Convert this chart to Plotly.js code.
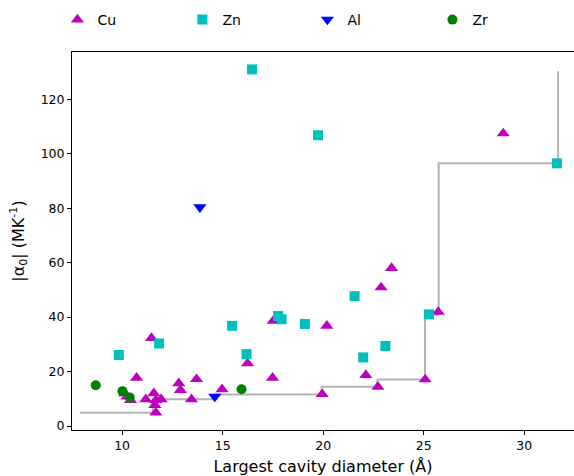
<!DOCTYPE html>
<html>
<head>
<meta charset="utf-8">
<script src="https://cdn.plot.ly/plotly-3.0.1.min.js"></script>
<style>html,body{margin:0;padding:0;overflow:hidden;background:#fff;}</style>
</head>
<body>
<div id="chart" style="width:574px;height:476px;"></div>
<script>
const cuX = [10.72, 10.13, 10.25, 10.42, 11.46, 11.18, 11.58, 11.68, 11.94, 11.68, 11.63, 12.82, 12.9, 13.7, 13.45, 14.97, 16.24, 17.51, 17.48, 20.18, 19.95, 22.88, 22.12, 22.72, 25.07, 25.72, 23.4, 28.95];
const cuY = [17.7, 12.0, 10.8, 9.5, 32.3, 9.8, 12.0, 9.5, 9.8, 4.9, 7.7, 15.7, 13.2, 17.2, 9.8, 13.5, 23.0, 38.6, 17.7, 36.8, 11.7, 50.9, 18.7, 14.4, 17.1, 41.9, 58.0, 107.5];
const znX = [9.84, 11.84, 15.47, 16.19, 16.46, 17.76, 17.93, 19.09, 19.74, 21.56, 21.99, 23.09, 25.26, 31.62];
const znY = [26.1, 30.3, 36.8, 26.4, 131.0, 40.4, 39.2, 37.5, 106.8, 47.7, 25.2, 29.4, 41.0, 96.5];
const alX = [13.87, 14.61];
const alY = [80.4, 10.8];
const zrX = [8.69, 10.02, 10.38, 15.94];
const zrY = [15.0, 12.8, 10.5, 13.5];
const stepX = [7.9, 11.54, 14.6, 19.92, 22.7, 25.06, 25.74, 31.68];
const stepY = [4.9, 9.8, 11.6, 14.4, 17.1, 41.0, 96.5, 130.3];
const xTicks = [10, 15, 20, 25, 30];
const yTicks = [0, 20, 40, 60, 80, 100, 120];

const font = 'DejaVu Sans, sans-serif';
const traces = [
  {x: stepX, y: stepY, mode: 'lines', line: {shape: 'hv', color: '#b3b3b3', width: 2}, showlegend: false, hoverinfo: 'skip'},
  {x: cuX, y: cuY, mode: 'markers', name: 'Cu', marker: {symbol: 'triangle-up', size: 11.5, color: '#bf00bf'}},
  {x: znX, y: znY, mode: 'markers', name: 'Zn', marker: {symbol: 'square', size: 10, color: '#00bfbf'}},
  {x: alX, y: alY, mode: 'markers', name: 'Al', marker: {symbol: 'triangle-down', size: 11.5, color: '#0000ff'}},
  {x: zrX, y: zrY, mode: 'markers', name: 'Zr', marker: {symbol: 'circle', size: 10, color: '#008000'}}
];
const layout = {
  width: 574, height: 476,
  margin: {l: 72, r: 0, t: 52, b: 46, pad: 0},
  paper_bgcolor: '#fff', plot_bgcolor: '#fff',
  font: {family: font, size: 12.5, color: '#000'},
  showlegend: true,
  legend: {orientation: 'h', xref: 'container', yref: 'container', x: 0.1, xanchor: 'left', y: 1 - 20/476, yanchor: 'middle',
           entrywidth: 80, font: {family: font, size: 14, color: '#000'}, bgcolor: 'rgba(0,0,0,0)'},
  xaxis: {range: [7.51, 32.47], tickvals: xTicks, ticktext: xTicks.map(String), ticks: 'outside', ticklen: 4, tickcolor: '#000',
          showline: true, linecolor: '#000', linewidth: 1, mirror: true, showgrid: false, zeroline: false,
          title: {text: 'Largest cavity diameter (Å)', font: {family: font, size: 16, color: '#000'}, standoff: 9}},
  yaxis: {range: [-1.47, 137.4], tickvals: yTicks, ticktext: yTicks.map(String), ticks: 'outside', ticklen: 4, tickcolor: '#000',
          showline: true, linecolor: '#000', linewidth: 1, mirror: false, showgrid: false, zeroline: false,
          title: {text: '|α<sub>0</sub>| (MK<sup>-1</sup>)', font: {family: font, size: 16, color: '#000'}, standoff: 12}}
};
Plotly.newPlot('chart', traces, layout, {displayModeBar: false, staticPlot: true});
</script>
</body>
</html>
